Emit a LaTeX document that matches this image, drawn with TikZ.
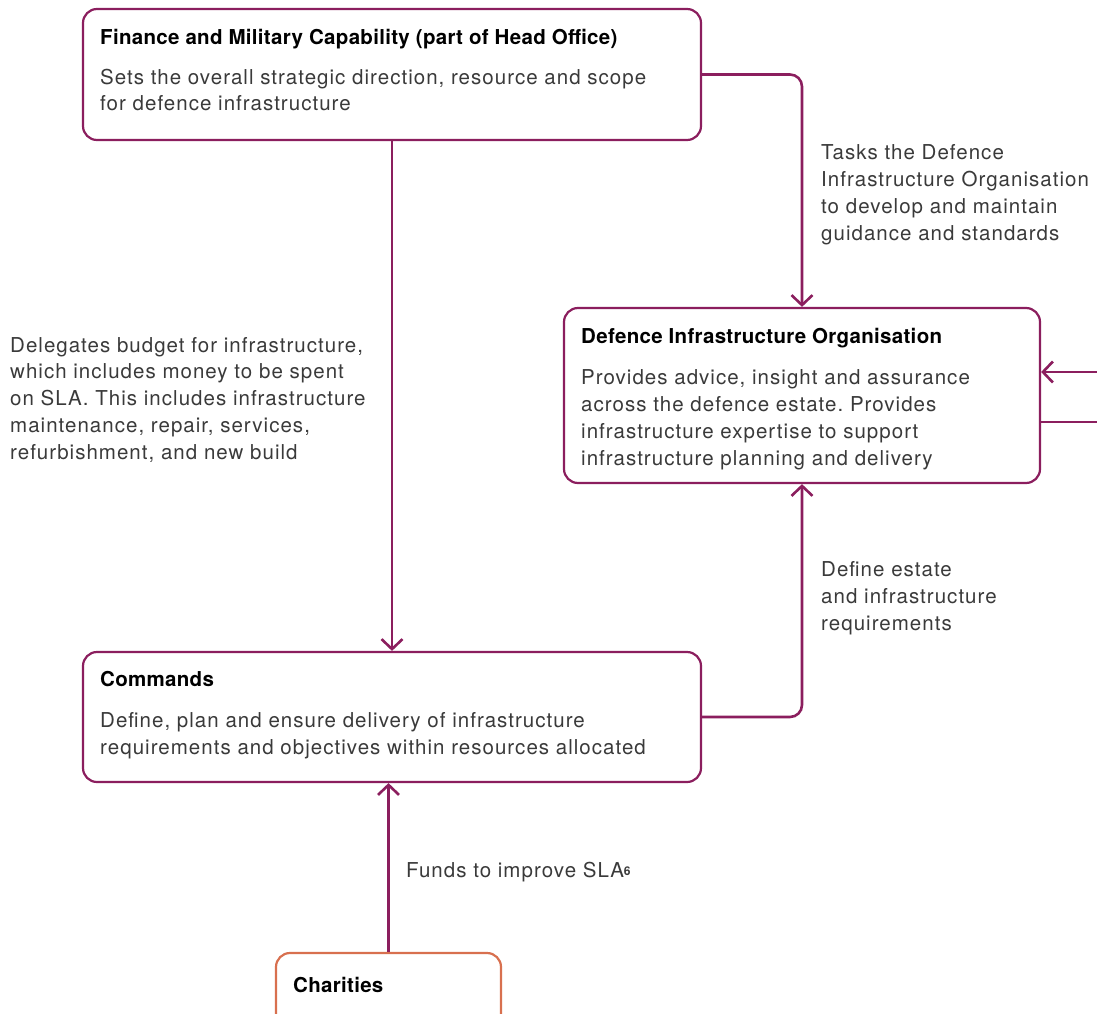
\documentclass[tikz,border=0pt]{standalone}
\usepackage{fontspec}
\setmainfont{TeX Gyre Heros}
\usetikzlibrary{arrows.meta}
\frenchspacing
\definecolor{plum}{HTML}{8B1E5E}
\definecolor{coral}{HTML}{D8704F}
\definecolor{txt}{HTML}{3A3A3A}
\newfontfamily\bodyfam[LetterSpace=5]{TeX Gyre Heros}
\newfontfamily\ttlfam[LetterSpace=1.5]{TeX Gyre Heros}
\tikzset{
  box/.style={draw=plum, line width=2.2pt, rounded corners=14pt, inner sep=0pt, fill=white},
  cbox/.style={box, draw=coral},
  ttl/.style={anchor=base west, inner sep=0pt, text=black, font=\ttlfam\fontsize{20.5}{26.7}\selectfont\bfseries},
  bod/.style={anchor=base west, inner sep=0pt, text=txt, align=left, font=\bodyfam\fontsize{20.5}{26.7}\selectfont\frenchspacing},
  conn/.style={draw=plum, line width=2.6pt, rounded corners=12pt},
  tip/.style={-{Straight Barb[length=10pt,width=21pt]}}
}
\begin{document}
\begin{tikzpicture}[x=1pt,y=-1pt]
\clip (0,0) rectangle (1097,1014);
\useasboundingbox (0,0) rectangle (1097,1014);
% boxes
\node[box, minimum width=618pt, minimum height=131pt] (fmc) at (392,74.5) {};
\node[box, minimum width=476pt, minimum height=175pt] (dio) at (802,395.5) {};
\node[box, minimum width=618pt, minimum height=130pt] (cmd) at (392,717) {};
\node[cbox, minimum width=225pt, minimum height=90pt] (chr) at (388.5,998) {};
% box texts (base anchor = last line baseline)
\node[ttl] (fmct) at (100,45) {Finance and Military Capability (part of Head Office)};
\node[bod] (fmcb) at (100,111) {Sets the overall strategic direction, resource and scope\\for defence infrastructure};
\node[ttl] (diot) at (581,343) {Defence Infrastructure Organisation};
\node[bod] (diob) at (581,465) {Provides advice, insight and assurance\\across the defence estate. Provides\\infrastructure expertise to support\\infrastructure planning and delivery};
\node[ttl] (cmdt) at (100,686) {Commands};
\node[bod] (cmdb) at (100,754) {Define, plan and ensure delivery of infrastructure\\requirements and objectives within resources allocated};
\node[ttl] (chrt) at (293,992) {Charities};
% connector labels
\node[bod] (l1) at (821,240) {Tasks the Defence\\Infrastructure Organisation\\to develop and maintain\\guidance and standards};
\node[bod] (l2) at (10,459) {Delegates budget for infrastructure,\\which includes money to be spent\\on SLA. This includes infrastructure\\maintenance, repair, services,\\refurbishment, and new build};
\node[bod] (l3) at (821,630) {Define estate\\and infrastructure\\requirements};
\node[bod] (l4) at (406,877) {Funds to improve SLA\raisebox{2pt}{\fontsize{12}{12}\selectfont\bfseries 6}};
% connectors
\coordinate (rin) at (1100,372);
\coordinate (rout) at (1100,422);
\draw[conn, tip] (fmc.south) -- (cmd.north);
\draw[conn, tip] (fmc.east) -| (dio.north);
\draw[conn, tip] (cmd.east) -| (dio.south);
\draw[conn, tip] (chr.north) -- (chr.north |- cmd.south);
\draw[conn, tip] (rin) -- (rin -| dio.east);
\draw[conn] (rout -| dio.east) -- (rout);
\end{tikzpicture}
\end{document}
